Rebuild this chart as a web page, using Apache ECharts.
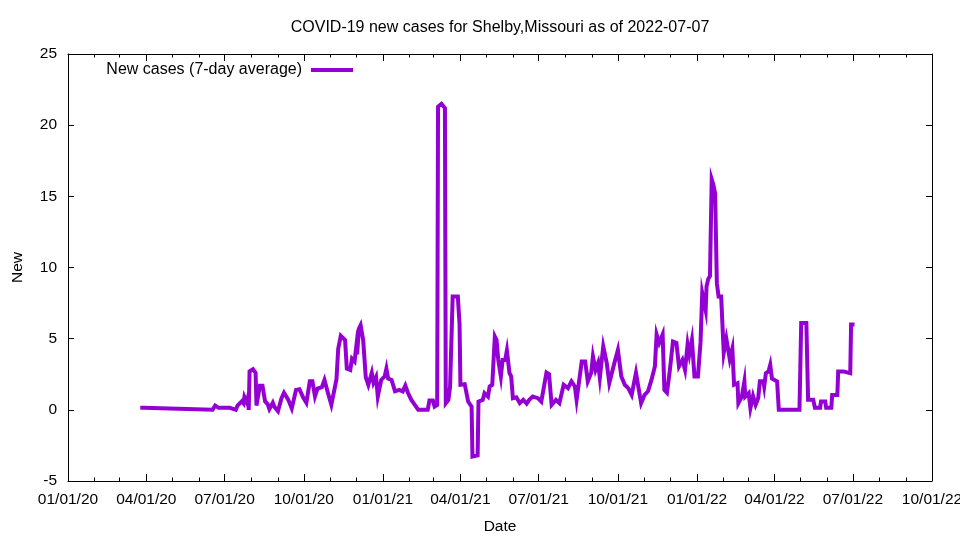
<!DOCTYPE html>
<html lang="en">
<head>
  <meta charset="UTF-8">
  <title>COVID-19 new cases for Shelby,Missouri</title>
  <script src="https://cdn.jsdelivr.net/npm/echarts@6/dist/echarts.min.js"></script>
  <style type="text/css">
    html, body { margin: 0; padding: 0; background: #fff; }
    #main { width: 960px; height: 540px; }
  </style>
</head>
<body>
  <div id="main"></div>

  <script type="text/javascript">
    // 7-day average of new cases
    var dates = [
      '2020-03-25','2020-03-29','2020-03-30','2020-06-17','2020-06-20','2020-06-22','2020-06-24','2020-07-07',
      '2020-07-08','2020-07-14','2020-07-16','2020-07-21','2020-07-23','2020-07-24','2020-07-27','2020-07-28',
      '2020-07-29','2020-07-30','2020-08-03','2020-08-06','2020-08-07','2020-08-08','2020-08-11','2020-08-14',
      '2020-08-17','2020-08-20','2020-08-22','2020-08-26','2020-08-28','2020-09-01','2020-09-05','2020-09-08',
      '2020-09-11','2020-09-13','2020-09-17','2020-09-22','2020-09-26','2020-09-30','2020-10-04','2020-10-08',
      '2020-10-11','2020-10-14','2020-10-17','2020-10-19','2020-10-22','2020-10-25','2020-10-29','2020-11-02',
      '2020-11-08','2020-11-10','2020-11-13','2020-11-15','2020-11-18','2020-11-20','2020-11-24','2020-11-26',
      '2020-11-29','2020-12-01','2020-12-02','2020-12-04','2020-12-06','2020-12-09','2020-12-12','2020-12-15',
      '2020-12-19','2020-12-21','2020-12-24','2020-12-26','2020-12-30',
      '2021-01-03','2021-01-05','2021-01-07','2021-01-11','2021-01-15','2021-01-20','2021-01-24','2021-01-27',
      '2021-01-30','2021-02-03','2021-02-07','2021-02-11','2021-02-22','2021-02-24','2021-02-28','2021-03-02',
      '2021-03-05','2021-03-06','2021-03-10','2021-03-14','2021-03-15','2021-03-18','2021-03-20','2021-03-22',
      '2021-03-23','2021-03-29','2021-03-31','2021-04-01','2021-04-06','2021-04-10','2021-04-14','2021-04-15',
      '2021-04-21','2021-04-22','2021-04-27','2021-04-29','2021-05-03','2021-05-05','2021-05-08','2021-05-11',
      '2021-05-13','2021-05-15','2021-05-18','2021-05-20','2021-05-23','2021-05-25','2021-05-28','2021-05-30',
      '2021-06-01','2021-06-05','2021-06-09','2021-06-13','2021-06-17','2021-06-20','2021-06-24','2021-06-30',
      '2021-07-04','2021-07-10','2021-07-13','2021-07-16','2021-07-21','2021-07-25','2021-07-30','2021-08-04',
      '2021-08-08','2021-08-12','2021-08-14','2021-08-20','2021-08-24','2021-08-27','2021-08-31','2021-09-02',
      '2021-09-05','2021-09-08','2021-09-10','2021-09-14','2021-09-18','2021-09-21','2021-09-27','2021-10-01',
      '2021-10-05','2021-10-09','2021-10-13','2021-10-17','2021-10-22','2021-10-24','2021-10-28','2021-11-01',
      '2021-11-05','2021-11-09','2021-11-13','2021-11-15','2021-11-18','2021-11-22','2021-11-24','2021-11-27',
      '2021-11-30','2021-12-04','2021-12-08','2021-12-11','2021-12-15','2021-12-18','2021-12-21','2021-12-23',
      '2021-12-26','2021-12-29',
      '2022-01-02','2022-01-05','2022-01-07','2022-01-09','2022-01-11','2022-01-12','2022-01-14','2022-01-16',
      '2022-01-18','2022-01-20','2022-01-21','2022-01-22','2022-01-24','2022-01-26','2022-01-29','2022-02-01',
      '2022-02-04','2022-02-08','2022-02-11','2022-02-13','2022-02-17','2022-02-18','2022-02-22','2022-02-25',
      '2022-02-26','2022-03-02','2022-03-04','2022-03-07','2022-03-10','2022-03-13','2022-03-15','2022-03-19',
      '2022-03-20','2022-03-22','2022-03-25','2022-03-27','2022-03-29','2022-04-01','2022-04-04','2022-04-06',
      '2022-04-30','2022-05-02','2022-05-08','2022-05-10','2022-05-16','2022-05-18','2022-05-24','2022-05-25',
      '2022-05-30','2022-05-31','2022-06-06','2022-06-07','2022-06-13','2022-06-14','2022-06-20','2022-06-22',
      '2022-06-28','2022-06-29','2022-07-03'
    ];
    var newCases = [
      0.14, 0.14, 0, 0, 0.3, 0.3, 0.14, 0.14,
      0, 0, 0.3, 0.6, 0.45, 0.9, 0.5, 0.8,
      0, 2.7, 2.85, 2.6, 0.3, 0.4, 1.7, 1.7,
      0.6, 0.4, 0.05, 0.5, 0.2, -0.1, 0.8, 1.2,
      0.9, 0.7, 0.1, 1.4, 1.45, 0.9, 0.5, 2.0,
      2.0, 0.94, 1.5, 1.4, 1.6, 2.1, 1.2, 0.35,
      2.15, 4.3, 5.2, 5.1, 4.9, 2.9, 2.8, 3.6,
      3.4, 4.45, 3.9, 5.7, 5.95, 4.9, 2.3, 1.75,
      2.6, 1.9, 2.3, 0.93, 2.1,
      2.35, 2.9, 2.2, 2.1, 1.3, 1.4, 1.3, 1.7,
      1.2, 0.7, 0.35, 0, 0, 0.65, 0.65, 0.23,
      0.35, 21.3, 21.5, 21.2, 0.47, 0.7, 1.64, 1.7,
      7.96, 7.96, 6.0, 1.76, 1.8, 0.58, 0.23, -3.28,
      -3.2, 0.58, 0.7, 1.17, 0.93, 1.64, 1.76, 5.15,
      4.9, 3.5, 2.34, 3.5, 3.5, 4.17, 2.6, 2.34,
      0.82, 0.88, 0.47, 0.7, 0.44, 0.7, 0.93, 0.82,
      0.58, 2.62, 2.5, 0.35, 0.7, 0.47, 1.76, 1.52,
      2.0, 1.64, 0.7, 3.4, 3.4, 2.0, 2.6, 3.75,
      2.8, 3.3, 2.25, 4.45, 3.3, 1.88, 3.3, 4.2,
      2.34, 1.76, 1.52, 1.05, 2.6, 2.5, 0.47, 1.05,
      1.3, 2.1, 3.05, 5.3, 4.7, 5.3, 1.4, 1.2,
      2.58, 4.8, 4.7, 3.05, 3.5, 2.8, 4.6, 3.9,
      4.9, 2.35,
      2.35, 4.7, 8.2, 8.3, 7.0, 8.67, 9.2, 9.4,
      16.2, 15.8, 15.9, 15.2, 8.9, 7.96, 7.96, 4.0,
      5.0, 3.55, 4.3, 1.76, 1.87, 0.47, 0.93, 2.0,
      0.93, 1.17, 0.12, 0.97, 0.35, 0.82, 2.0, 2.0,
      1.64, 2.58, 2.7, 3.16, 2.2, 2.1, 2.0, 0,
      0, 6.1, 6.1, 0.7, 0.7, 0.14, 0.14, 0.58,
      0.58, 0.14, 0.14, 1.05, 1.05, 2.7, 2.7, 2.58,
      2.58, 6.0, 6.0
    ];

    // labelled (quarter) ticks on the date axis
    var quarterTicks = [
      '2020-01-01','2020-04-01','2020-07-01','2020-10-01',
      '2021-01-01','2021-04-01','2021-07-01','2021-10-01',
      '2022-01-01','2022-04-01','2022-07-01','2022-10-01'
    ];
    var xStart = '2020-01-01';
    var xEnd = '2022-10-01';

    function ms(s) { return new Date(s + 'T00:00:00Z').getTime(); }
    function pad(n) { return (n < 10 ? '0' : '') + n; }
    function fmtDate(v) {
      var d = new Date(v);
      return pad(d.getUTCMonth() + 1) + '/' + pad(d.getUTCDate()) + '/' + pad(d.getUTCFullYear() % 100);
    }

    var majorTicks = quarterTicks.map(ms);
    // month starts for the small ticks
    var minorTicks = [];
    for (var y = 2020; y <= 2022; y++) {
      for (var m = 0; m < 12; m++) {
        var t = Date.UTC(y, m, 1);
        if (t >= ms(xStart) && t <= ms(xEnd)) minorTicks.push(t);
      }
    }

    var seriesData = [];
    for (var i = 0; i < dates.length; i++) {
      seriesData.push([ms(dates[i]), newCases[i]]);
    }

    var FONT = '"Liberation Sans", Arial, sans-serif';
    var black = '#000';

    function dateAxis(pos, ticks, len, withLine, withLabel) {
      return {
        type: 'value',
        position: pos,
        min: ms(xStart),
        max: ms(xEnd),
        axisLine: { show: withLine, onZero: false, lineStyle: { color: black, width: 1 } },
        axisTick: { show: true, inside: true, length: len, customValues: ticks, lineStyle: { color: black, width: 1 } },
        axisLabel: withLabel ? {
          show: true, customValues: majorTicks, formatter: fmtDate, margin: 11,
          color: black, fontSize: 15.5, fontFamily: FONT,
          showMinLabel: true, showMaxLabel: true, hideOverlap: false
        } : { show: false },
        splitLine: { show: false }
      };
    }

    var xMain = dateAxis('bottom', majorTicks, 7, true, true);
    xMain.name = 'Date';
    xMain.nameLocation = 'middle';
    xMain.nameGap = 38;
    xMain.nameTextStyle = { color: black, fontSize: 15.5, fontFamily: FONT };

    function valueAxis(pos, withLabel) {
      return {
        type: 'value',
        position: pos,
        min: -5,
        max: 25,
        interval: 5,
        axisLine: { show: true, onZero: false, lineStyle: { color: black, width: 1 } },
        axisTick: { show: true, inside: true, length: 6, lineStyle: { color: black, width: 1 } },
        axisLabel: withLabel ? { show: true, margin: 11, color: black, fontSize: 15.5, fontFamily: FONT } : { show: false },
        splitLine: { show: false }
      };
    }

    var yMain = valueAxis('left', true);
    yMain.name = 'New';
    yMain.nameLocation = 'middle';
    yMain.nameGap = 42;
    yMain.nameRotate = 90;
    yMain.nameTextStyle = { color: black, fontSize: 15.5, fontFamily: FONT };

    var myChart = echarts.init(document.getElementById('main'));

    var option = {
      animation: false,
      backgroundColor: '#fff',
      title: {
        text: 'COVID-19 new cases for Shelby,Missouri as of 2022-07-07',
        left: 500,
        top: 20,
        padding: 0,
        textAlign: 'center',
        textStyle: { color: black, fontSize: 16, fontWeight: 'normal', fontFamily: FONT }
      },
      legend: {
        data: ['New cases (7-day average)'],
        right: 607,
        top: 62,
        padding: 0,
        align: 'right',
        icon: 'rect',
        itemWidth: 42,
        itemHeight: 4,
        textStyle: { color: black, fontSize: 16, fontFamily: FONT, padding: [0, 4, 0, 0] }
      },
      // keep the plot box fixed even though the last date label runs off the edge
      grid: { left: 68, right: 28, top: 54, bottom: 59, containLabel: false, outerBoundsMode: 'none' },
      xAxis: [
        xMain,
        dateAxis('bottom', minorTicks, 3.5, false, false),
        dateAxis('top', majorTicks, 7, true, false),
        dateAxis('top', minorTicks, 3.5, false, false)
      ],
      yAxis: [
        yMain,
        valueAxis('right', false)
      ],
      series: [{
        name: 'New cases (7-day average)',
        type: 'line',
        xAxisIndex: 0,
        yAxisIndex: 0,
        data: seriesData,
        showSymbol: false,
        symbol: 'none',
        lineStyle: { color: '#9400d3', width: 4, join: 'miter' },
        itemStyle: { color: '#9400d3' }
      }]
    };

    myChart.setOption(option);
  </script>
</body>
</html>
